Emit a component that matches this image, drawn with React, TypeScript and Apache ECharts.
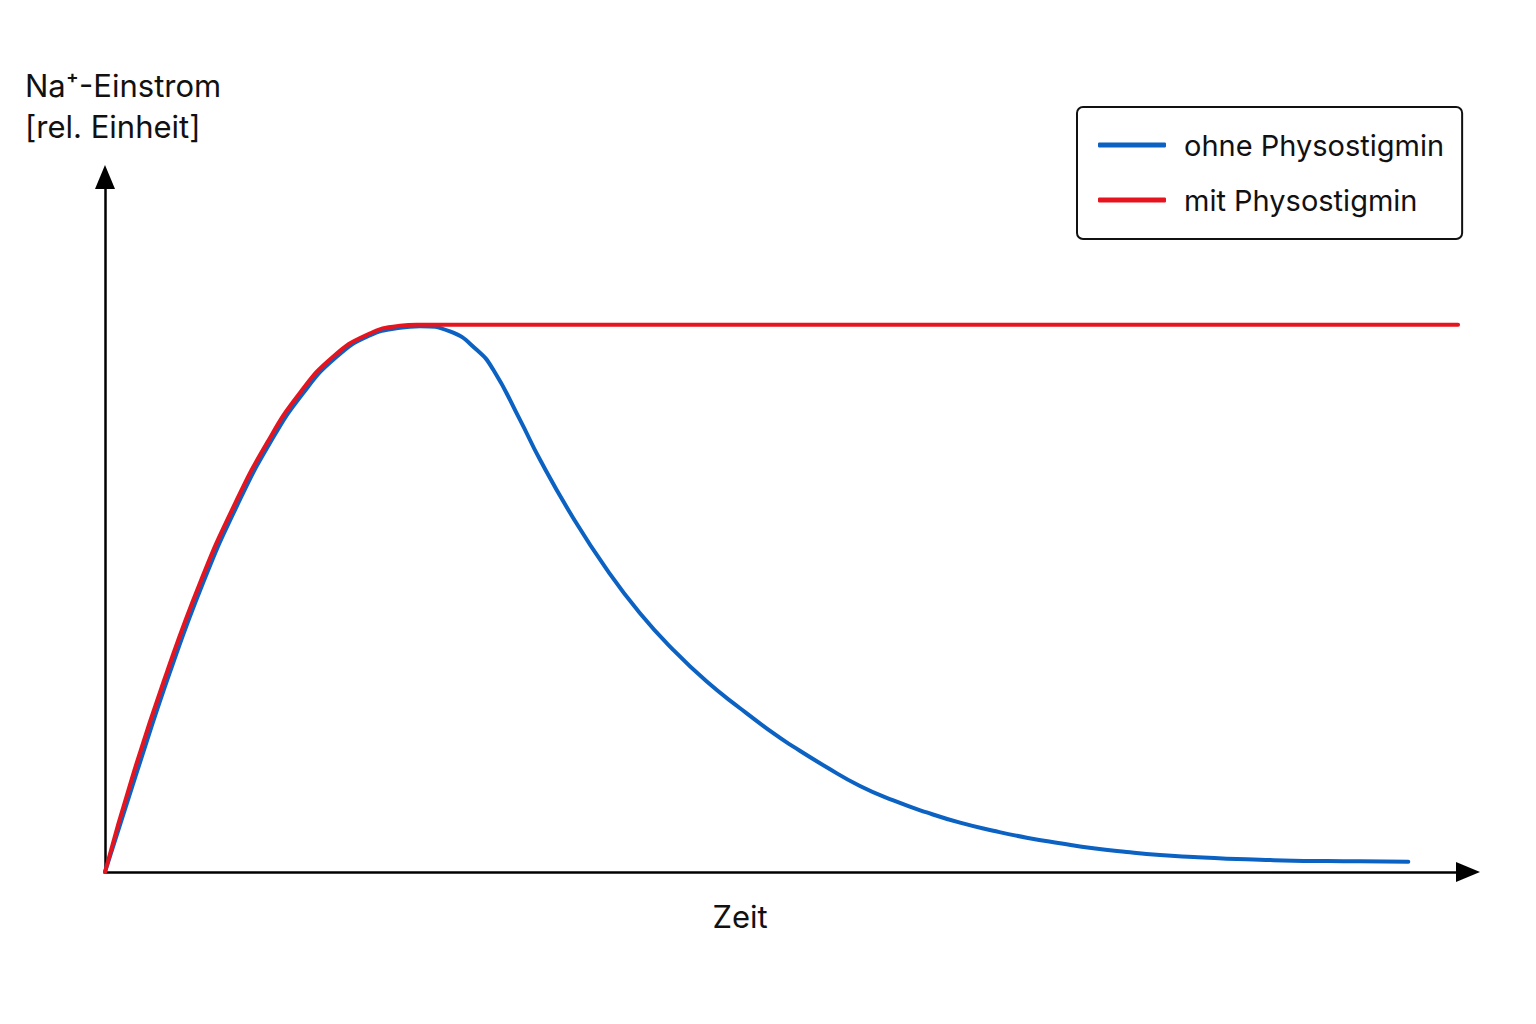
import * as echarts from "echarts";
import { useEffect, useRef } from "react";

// time (0..100 = full axis) and Na+ influx (plateau = 100)
const mitX = [0, 2.05, 4.55, 6.97, 9.39, 11.89, 14.31, 16.73, 19.22, 21.64, 22.89, 99.27];
const mitY = [0, 17.73, 36.56, 52.83, 66.54, 78.43, 87.57, 94.15, 98.17, 99.82, 100, 100];

const ohneX = [
  0, 2.27, 4.77, 7.19, 9.61, 12.11, 14.53, 16.95, 19.37, 21.64, 23.11, 25.31, 27.27,
  28.49, 30.45, 31.92, 34.36, 36.81, 39.25, 41.69, 44.15, 46.59, 49.03, 50.5, 52.95,
  55.39, 57.84, 60.29, 62.73, 65.17, 67.62, 70.07, 72.51, 74.96, 77.4, 79.85, 82.3,
  84.74, 87.18, 89.63, 92.08, 95.62,
];
const ohneY = [
  0, 17.73, 36.56, 52.83, 66.54, 78.43, 87.48, 94.06, 97.99, 99.45, 99.73, 98.78, 95.43,
  91.77, 82.63, 75.32, 64.65, 55.3, 47.29, 40.59, 34.79, 29.93, 25.36, 22.91, 19.14,
  15.72, 13.07, 10.88, 9.01, 7.55, 6.27, 5.25, 4.33, 3.66, 3.11, 2.74, 2.43, 2.25, 2.07,
  2.01, 1.96, 1.88,
];

const seriesNames = ["ohne Physostigmin", "mit Physostigmin"];
const yLabel = ["Na⁺-Einstrom", "[rel. Einheit]"];
const xLabel = "Zeit";

const FONT = "Inter, Roboto, sans-serif";

export default function App() {
  const chartRef = useRef<HTMLDivElement>(null);

  useEffect(() => {
    if (!chartRef.current) return;
    const chart = echarts.init(chartRef.current, null, { renderer: "svg" });

    const axisLine = {
      show: true,
      onZero: true,
      symbol: ["none", "triangle"],
      symbolSize: [20, 24],
      lineStyle: { color: "#000", width: 2.5 },
    };

    chart.setOption({
      animation: false,
      backgroundColor: "#fff",
      grid: { left: 105, right: 68, top: 177, bottom: 152 },
      xAxis: {
        type: "value",
        min: 0,
        max: 100,
        axisLine,
        axisTick: { show: false },
        axisLabel: { show: false },
        splitLine: { show: false },
      },
      yAxis: {
        type: "value",
        min: 0,
        max: 127,
        axisLine,
        axisTick: { show: false },
        axisLabel: { show: false },
        splitLine: { show: false },
      },
      legend: {
        orient: "vertical",
        left: 1077,
        top: 107,
        padding: [21, 18, 22, 21],
        itemWidth: 68,
        itemHeight: 5,
        itemGap: 21,
        icon: "roundRect",
        borderColor: "#111",
        borderWidth: 2,
        borderRadius: 6,
        textStyle: {
          fontSize: 29,
          color: "#111",
          fontFamily: FONT,
          lineHeight: 34,
          padding: [0, 0, 0, 13],
        },
        data: seriesNames,
      },
      graphic: [
        {
          type: "text",
          left: 25,
          top: 65,
          style: {
            text: yLabel.join("\n"),
            fontSize: 31,
            lineHeight: 41,
            fill: "#111",
            fontFamily: FONT,
          },
        },
        {
          type: "text",
          x: 740,
          y: 916,
          style: {
            text: xLabel,
            fontSize: 31,
            fill: "#111",
            fontFamily: FONT,
            align: "center",
            verticalAlign: "middle",
          },
        },
      ],
      series: [
        {
          name: seriesNames[0],
          type: "line",
          data: ohneX.map((x, i) => [x, ohneY[i]]),
          smooth: 0.5,
          showSymbol: false,
          color: "#0b62c2",
          lineStyle: { width: 4, cap: "round", color: "#0b62c2" },
        },
        {
          name: seriesNames[1],
          type: "line",
          data: mitX.map((x, i) => [x, mitY[i]]),
          smooth: 0.5,
          showSymbol: false,
          color: "#e5141e",
          lineStyle: { width: 4, cap: "round", color: "#e5141e" },
        },
      ],
    });

    return () => chart.dispose();
  }, []);

  return (
    <div
      ref={chartRef}
      style={{ position: "fixed", left: 0, top: 0, width: "1536px", height: "1024px" }}
    />
  );
}
